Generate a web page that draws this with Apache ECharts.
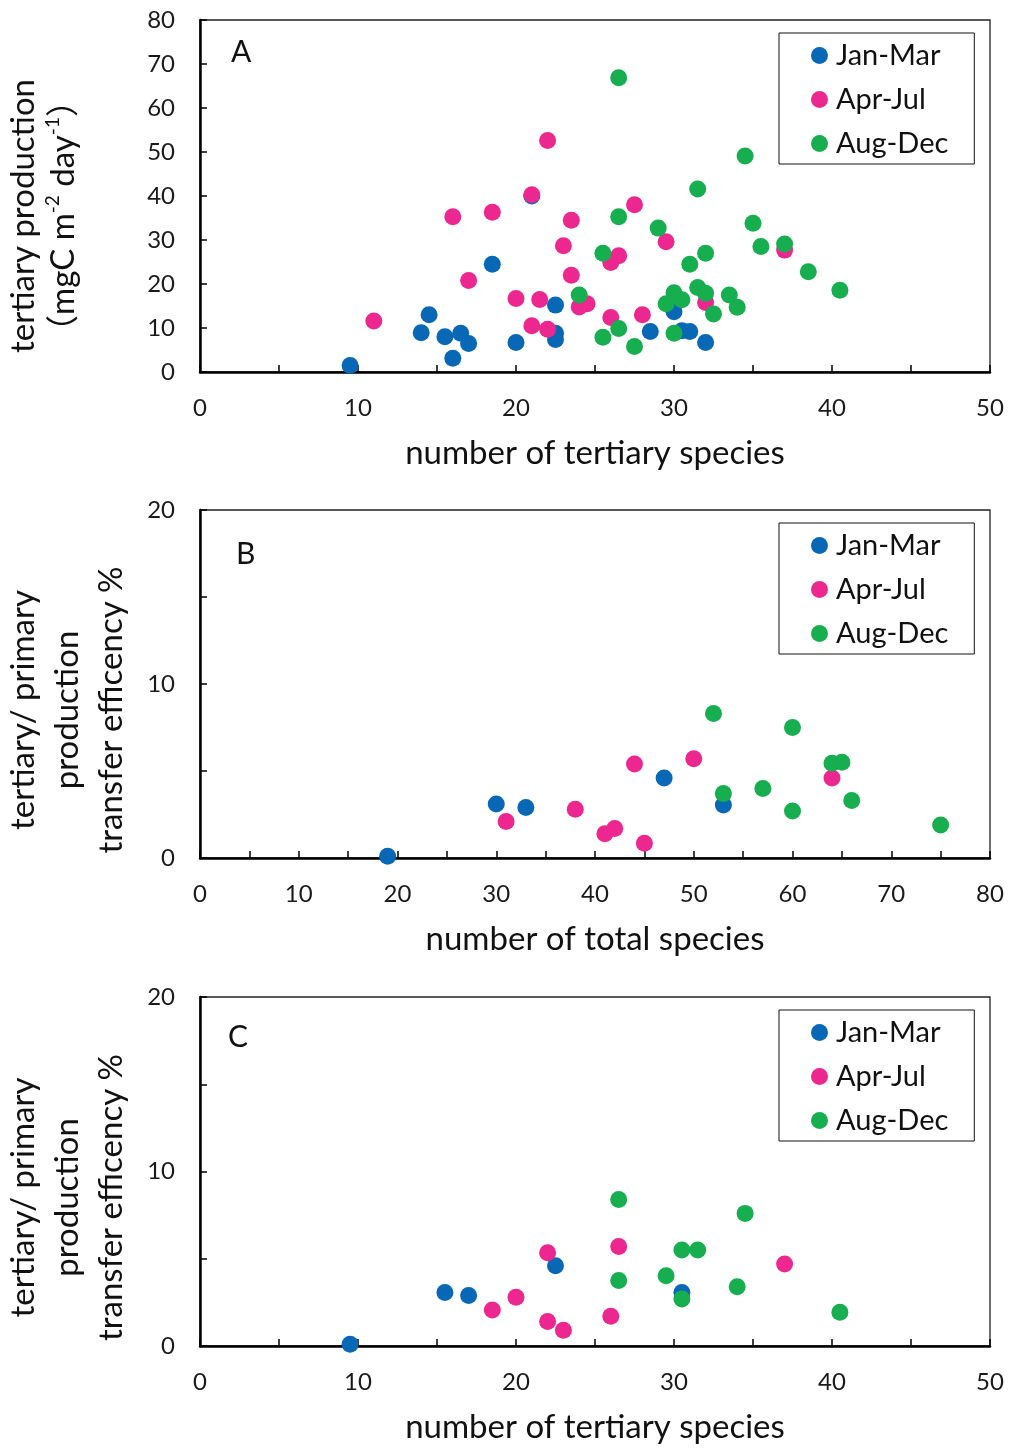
<!DOCTYPE html>
<html>
<head>
<meta charset="utf-8">
<script src="https://cdn.jsdelivr.net/npm/echarts@6/dist/echarts.min.js"></script>
<style>
  html, body { margin: 0; padding: 0; background: #fff; }
  #chart { width: 1012px; height: 1448px; }
</style>
</head>
<body>
<div id="chart"></div>
<script>
// Season groups
const seasons = ['Jan-Mar', 'Apr-Jul', 'Aug-Dec'];
const seasonColors = ['#0868b6', '#ec2890', '#16ae4e'];

// A: tertiary production vs number of tertiary species  [species, mgC m-2 day-1]
const prodJanMar = [[9.5,1.5],[14.5,13.0],[14,8.9],[15.5,8.0],[16.5,8.8],[17,6.5],[16,3.1],[18.5,24.5],[20,6.7],[21,40.0],[22.5,15.2],[22.5,8.8],[22.5,7.4],[30,13.7],[28.5,9.2],[30.5,9.4],[31,9.2],[32,6.7]];
const prodAprJul = [[11,11.6],[16,35.3],[17,20.8],[18.5,36.3],[20,16.7],[21,40.3],[21,10.5],[21.5,16.5],[22,9.7],[22,52.6],[23.5,34.5],[23,28.7],[23.5,22.0],[24,14.8],[24.5,15.5],[27.5,38.0],[29.5,29.6],[37,27.7],[26.5,26.4],[26,24.9],[32,15.8],[26,12.4],[28,13.0]];
const prodAugDec = [[26.5,66.9],[34.5,49.1],[31.5,41.6],[26.5,35.3],[29,32.7],[35,33.8],[35.5,28.5],[37,29.1],[25.5,27.0],[32,27.0],[31,24.5],[38.5,22.8],[40.5,18.6],[24,17.5],[30,18.0],[30.5,16.4],[29.5,15.5],[31.5,19.2],[32,17.9],[32.5,13.2],[33.5,17.5],[34,14.7],[26.5,9.9],[25.5,7.9],[30,8.8],[27.5,5.8]];

// B: transfer efficiency vs number of total species  [species, %]
const effTotalJanMar = [[19,0.1],[30,3.1],[33,2.9],[47,4.6],[53,3.05]];
const effTotalAprJul = [[31,2.1],[38,2.8],[41,1.4],[42,1.7],[44,5.4],[45,0.85],[50,5.7],[64,4.6]];
const effTotalAugDec = [[52,8.3],[53,3.7],[57,4.0],[60,7.5],[60,2.7],[64,5.45],[65,5.5],[66,3.3],[75,1.9]];

// C: transfer efficiency vs number of tertiary species  [species, %]
const effTertJanMar = [[9.5,0.1],[15.5,3.06],[17,2.9],[22.5,4.6],[30.5,3.07]];
const effTertAprJul = [[18.5,2.06],[20,2.8],[22,5.35],[22,1.4],[23,0.9],[26,1.7],[26.5,5.7],[37,4.7]];
const effTertAugDec = [[26.5,8.4],[34.5,7.6],[30.5,5.5],[31.5,5.5],[29.5,4.03],[26.5,3.75],[34,3.4],[30.5,2.7],[40.5,1.93]];

// Axis ranges and titles
const xRanges = [[0, 50, 10], [0, 80, 10], [0, 50, 10]];
const yRanges = [[0, 80, 10], [0, 20, 10], [0, 20, 10]];
const xTitles = ['number of tertiary species', 'number of total species', 'number of tertiary species'];
const yTitles = [
  'tertiary production\n（mgC m{sup|-2} day{sup|-1}）',
  'tertiary/ primary\nproduction\ntransfer efficency %',
  'tertiary/ primary\nproduction\ntransfer efficency %'
];
const panelLetters = ['A', 'B', 'C'];

const FONT = 'Lato, "Noto Sans CJK SC", sans-serif';
const panels = [
  { top: 20, height: 352 },
  { top: 510, height: 348 },
  { top: 997, height: 349 }
];
const panelData = [
  [prodJanMar, prodAprJul, prodAugDec],
  [effTotalJanMar, effTotalAprJul, effTotalAugDec],
  [effTertJanMar, effTertAprJul, effTertAugDec]
];

const tickStyle = { color: '#000', width: 1.5 };

const grids = panels.map(p => ({
  left: 200, width: 790, top: p.top, height: p.height,
  outerBoundsMode: 'none', containLabel: false,
  show: true, borderColor: '#222', borderWidth: 1.3, backgroundColor: 'transparent'
}));

const xAxes = panels.map((p, i) => ({
  type: 'value', gridIndex: i,
  min: xRanges[i][0], max: xRanges[i][1], interval: xRanges[i][2],
  axisLine: { show: true, lineStyle: { color: '#000', width: 2.5 } },
  axisTick: { show: true, inside: true, length: 7, lineStyle: tickStyle },
  minorTick: { show: true, splitNumber: 2, length: 7, lineStyle: tickStyle },
  splitLine: { show: false },
  axisLabel: { fontSize: 24, color: '#1a1a1a', fontFamily: FONT, margin: 24 },
  name: xTitles[i], nameLocation: 'middle', nameGap: 65,
  nameTextStyle: { fontSize: 33, color: '#111', fontFamily: FONT }
}));

const yAxes = panels.map((p, i) => ({
  type: 'value', gridIndex: i,
  min: yRanges[i][0], max: yRanges[i][1], interval: yRanges[i][2],
  axisLine: { show: true, lineStyle: { color: '#000', width: 2.5 } },
  axisTick: { show: true, inside: true, length: 7, lineStyle: tickStyle },
  minorTick: { show: i > 0, splitNumber: 2, length: 7, lineStyle: tickStyle },
  splitLine: { show: false },
  axisLabel: { fontSize: 24, color: '#1a1a1a', fontFamily: FONT, margin: 25 },
  name: yTitles[i], nameLocation: 'middle', nameRotate: 90,
  nameGap: i === 0 ? 117 : 67,
  nameTextStyle: {
    fontSize: 33, color: '#111', fontFamily: FONT, lineHeight: i === 0 ? 40 : 44,
    align: 'center',
    padding: i === 0 ? [0, 40, 0, 0] : [0, 52, 0, 0],
    rich: {
      sup: { fontSize: 19, fontFamily: FONT, color: '#111', verticalAlign: 'top', lineHeight: 40 }
    }
  }
}));

const series = [];
panelData.forEach((group, gi) => {
  group.forEach((pts, si) => {
    series.push({
      type: 'scatter', name: seasons[si],
      xAxisIndex: gi, yAxisIndex: gi,
      data: pts, symbol: 'circle', symbolSize: 17,
      itemStyle: { color: seasonColors[si], opacity: 1 },
      z: 2 + si
    });
  });
});

const legends = panels.map((p, i) => ({
  data: seasons, orient: 'vertical',
  left: 779, top: p.top + 13,
  icon: 'circle', itemWidth: 17, itemHeight: 17, itemGap: 15,
  padding: [8, 26, 6, 32],
  borderColor: '#111', borderWidth: 1,
  selectedMode: false,
  textStyle: { fontSize: 29, color: '#111', fontFamily: FONT, padding: [0, 0, 0, 3] }
}));

const letters = panels.map((p, i) => ({
  type: 'text', left: [231, 236, 228][i], top: p.top + [17, 29, 25][i],
  style: { text: panelLetters[i], fontSize: 30, fill: '#111', fontFamily: FONT }
}));

const chart = echarts.init(document.getElementById('chart'), null, { renderer: 'canvas' });
chart.setOption({
  backgroundColor: '#fff',
  animation: false,
  grid: grids,
  xAxis: xAxes,
  yAxis: yAxes,
  legend: legends,
  graphic: letters,
  series: series
});
</script>
</body>
</html>
